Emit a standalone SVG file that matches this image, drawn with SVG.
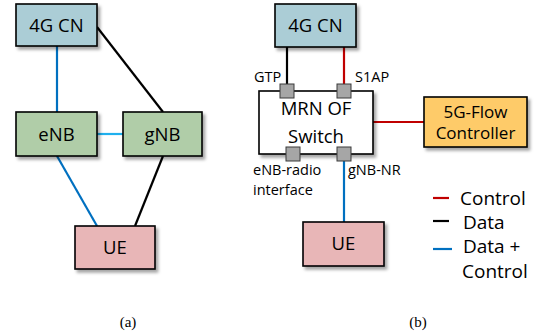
<svg xmlns="http://www.w3.org/2000/svg" width="535" height="334" viewBox="0 0 535 334">
<defs>
<filter id="sh" x="-10%" y="-10%" width="130%" height="140%">
<feDropShadow dx="2.5" dy="3" stdDeviation="1.8" flood-color="#000" flood-opacity="0.35"/>
</filter>
<style>
.box{stroke:#000;stroke-width:1.6}
.cn{fill:#abcdd6}
.bs{fill:#b0cda8}
.ue{fill:#e8b6b7}
.ctl{fill:#fecb69}
.sw{fill:#fff}
.port{fill:#a6a6a6;stroke:#3a3a3a;stroke-width:1}
.t{font-family:"Open Sans","Liberation Sans",sans-serif;fill:#000;text-anchor:middle}
.big{font-size:18.5px}
.mid{font-size:17px}
.lbl{font-family:"Open Sans","Liberation Sans",sans-serif;font-size:14.5px;fill:#000}
.leg{font-family:"Open Sans","Liberation Sans",sans-serif;font-size:19px;fill:#000}
.cap{font-family:"Liberation Serif",serif;font-size:15px;fill:#000;text-anchor:middle}
.blue{stroke:#0070c0;stroke-width:2.2;fill:none}
.lblue{stroke:#1fb0ee;stroke-width:2.2;fill:none}
.black{stroke:#000;stroke-width:2.2;fill:none}
.red{stroke:#c00000;stroke-width:2.2;fill:none}
</style>
</defs>
<rect width="535" height="334" fill="#fff"/>

<g id="connectors">
<line class="blue" x1="57" y1="46" x2="57" y2="112"/>
<line class="black" x1="97" y1="27" x2="163" y2="112"/>
<line class="lblue" x1="97" y1="134" x2="123" y2="134"/>
<line class="blue" x1="57" y1="156" x2="97" y2="226"/>
<line class="black" x1="163" y1="156" x2="135" y2="226"/>
<line class="black" x1="287" y1="47" x2="287" y2="84"/>
<line class="red" x1="344" y1="47" x2="344" y2="84"/>
<line class="red" x1="373" y1="122" x2="424" y2="122"/>
<line class="blue" x1="344" y1="161" x2="344" y2="222"/>
</g>

<g id="a-4gcn">
<rect class="box cn" x="16" y="4" width="81" height="42" filter="url(#sh)"/>
<text class="t big" x="56.5" y="31.5">4G CN</text>
</g>
<g id="a-enb">
<rect class="box bs" x="16" y="112" width="81" height="44" filter="url(#sh)"/>
<text class="t big" x="56.5" y="140.5">eNB</text>
</g>
<g id="a-gnb">
<rect class="box bs" x="123" y="112" width="79" height="44" filter="url(#sh)"/>
<text class="t big" x="162.5" y="140.5">gNB</text>
</g>
<g id="a-ue">
<rect class="box ue" x="75" y="226" width="80" height="43" filter="url(#sh)"/>
<text class="t big" x="115" y="254">UE</text>
</g>
<text class="cap" x="128" y="327">(a)</text>

<g id="b-4gcn">
<rect class="box cn" x="275" y="4" width="81" height="43" filter="url(#sh)"/>
<text class="t big" x="315.5" y="32">4G CN</text>
</g>
<g id="b-switch">
<rect class="box sw" x="259" y="91" width="114" height="63" filter="url(#sh)"/>
<text class="t big" x="316" y="115">MRN OF</text>
<text class="t big" x="316" y="143">Switch</text>
<rect class="port" x="280" y="84" width="14" height="14"/>
<rect class="port" x="337" y="84" width="14" height="14"/>
<rect class="port" x="286" y="147" width="14" height="14"/>
<rect class="port" x="337" y="147" width="14" height="14"/>
<text class="lbl" x="254" y="82">GTP</text>
<text class="lbl" x="355" y="82">S1AP</text>
<text class="lbl" x="253" y="175">eNB-radio</text>
<text class="lbl" x="253" y="195">interface</text>
<text class="lbl" x="348" y="175">gNB-NR</text>
</g>
<g id="b-controller">
<rect class="box ctl" x="424" y="97" width="103" height="50" filter="url(#sh)"/>
<text class="t mid" x="475.5" y="118">5G-Flow</text>
<text class="t mid" x="475.5" y="139">Controller</text>
</g>
<g id="b-ue">
<rect class="box ue" x="303" y="222" width="81" height="44" filter="url(#sh)"/>
<text class="t big" x="343.5" y="250">UE</text>
</g>

<g id="legend">
<line class="red" x1="433" y1="198" x2="449" y2="198"/>
<line class="black" x1="433" y1="221" x2="449" y2="221"/>
<line class="blue" x1="433" y1="249" x2="452" y2="249"/>
<text class="leg" x="460" y="205">Control</text>
<text class="leg" x="463" y="229">Data</text>
<text class="leg" x="463" y="253">Data +</text>
<text class="leg" x="462" y="278">Control</text>
</g>
<text class="cap" x="418" y="327">(b)</text>
</svg>
